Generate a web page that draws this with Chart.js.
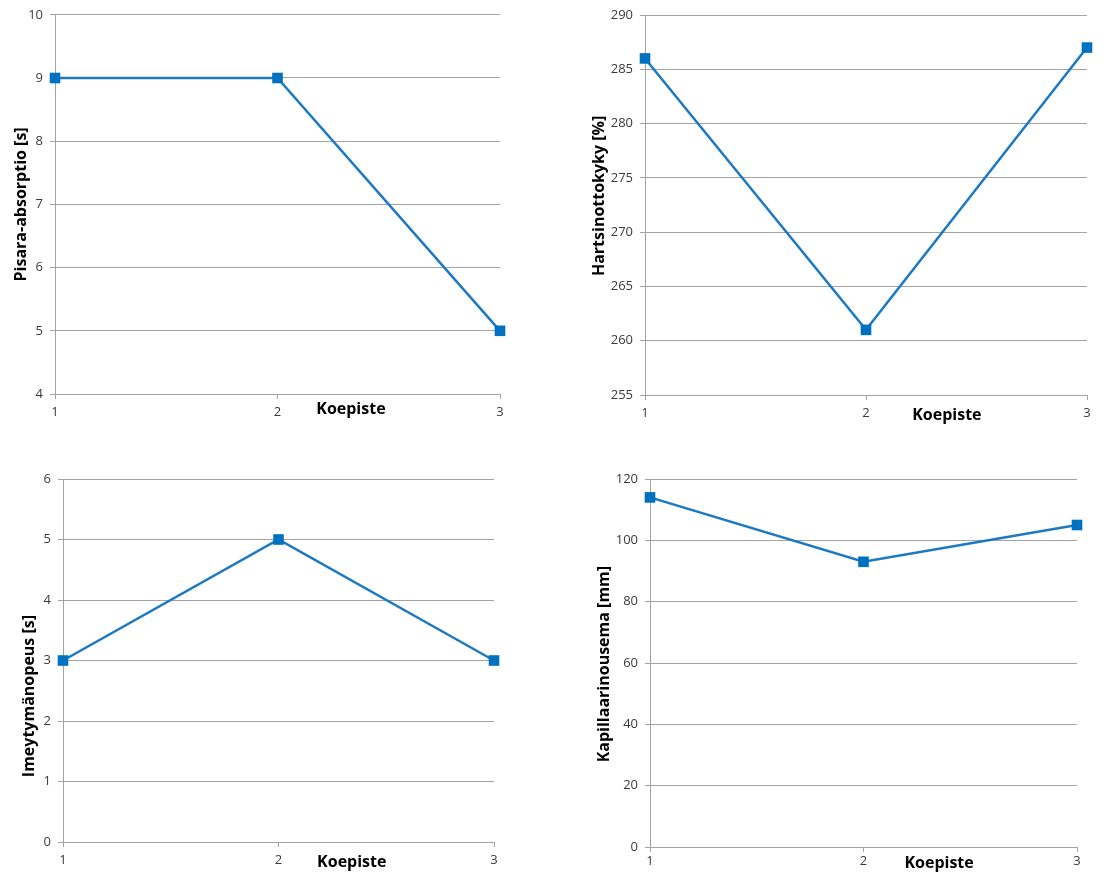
<!DOCTYPE html>
<html>
<head>
<meta charset="utf-8">
<script src="https://cdn.jsdelivr.net/npm/chart.js@4/dist/chart.umd.min.js"></script>
<style>
  html, body { margin: 0; padding: 0; background: #fff; }
  body { width: 1103px; height: 876px; position: relative; overflow: hidden; }
  .box { position: absolute; }
</style>
</head>
<body>
<div class="box" style="left:0;top:0;width:512px;height:440px"><canvas id="pisara"></canvas></div>
<div class="box" style="left:575px;top:0;width:528px;height:440px"><canvas id="hartsi"></canvas></div>
<div class="box" style="left:0;top:460px;width:512px;height:416px"><canvas id="imeytyma"></canvas></div>
<div class="box" style="left:575px;top:460px;width:528px;height:416px"><canvas id="kapillaari"></canvas></div>
<script>
// test points
const koepisteet = ['1', '2', '3'];

// measured values per test point
const pisaraAbsorptio = [9, 9, 5];
const hartsinottokyky = [286, 261, 287];
const imeytymanopeus = [3, 5, 3];
const kapillaarinousema = [114, 93, 105];

// y axis ranges [min, max, step]
const pisaraRange = [4, 10, 1];
const hartsiRange = [255, 290, 5];
const imeytymaRange = [0, 6, 1];
const kapillaariRange = [0, 120, 20];

const LINE = '#1b79c4';
const MARKER = '#0070c0';
const GRID = '#a3a3a3';
const TEXT = '#3a3a3a';
const FONT = "'Open Sans', 'DejaVu Sans', sans-serif";

// axis titles drawn Excel-style: x title beside the tick row, y title rotated
const axisTitles = {
  id: 'axisTitles',
  afterDraw(chart, args, opts) {
    const { ctx, chartArea } = chart;
    ctx.save();
    ctx.fillStyle = '#000';
    ctx.font = 'bold 16px ' + FONT;
    ctx.textAlign = 'center';
    ctx.textBaseline = 'middle';
    const xx = chartArea.left + opts.xAt * (chartArea.right - chartArea.left);
    ctx.fillText(opts.x, xx, chartArea.bottom + opts.xOff);
    const yy = chartArea.top + opts.yAt * (chartArea.bottom - chartArea.top);
    ctx.translate(chartArea.left + opts.yOff, yy);
    ctx.rotate(-Math.PI / 2);
    ctx.fillText(opts.y, 0, 0);
    ctx.restore();
  }
};

function lineChart(id, values, range, cfg) {
  new Chart(document.getElementById(id), {
    type: 'line',
    data: {
      labels: koepisteet,
      datasets: [{
        data: values,
        borderColor: LINE,
        borderWidth: 2.5,
        pointStyle: 'rect',
        pointRadius: 7.5,
        pointHoverRadius: 7.5,
        pointBackgroundColor: MARKER,
        pointBorderColor: MARKER,
        pointBorderWidth: 0,
        tension: 0,
        clip: false
      }]
    },
    options: {
      responsive: true,
      maintainAspectRatio: false,
      animation: false,
      events: [],
      layout: { autoPadding: false, padding: { top: cfg.top, right: cfg.right, left: 0, bottom: 0 } },
      plugins: {
        legend: { display: false },
        tooltip: { enabled: false },
        axisTitles: cfg.titles
      },
      scales: {
        x: {
          type: 'category',
          offset: false,
          grid: { drawOnChartArea: false, drawTicks: true, tickLength: 5, color: GRID },
          border: { color: GRID, width: 1 },
          ticks: { color: TEXT, font: { family: FONT, size: 13 }, padding: cfg.xPad, maxRotation: 0 },
          afterFit: s => { s.height = cfg.xHeight; }
        },
        y: {
          min: range[0],
          max: range[1],
          grid: { color: GRID, lineWidth: 1, tickLength: 5 },
          border: { color: GRID, width: 1 },
          ticks: { stepSize: range[2], color: TEXT, font: { family: FONT, size: 13 }, padding: 7 },
          afterFit: s => { s.width = cfg.yWidth; }
        }
      }
    },
    plugins: [axisTitles]
  });
}

lineChart('pisara', pisaraAbsorptio, pisaraRange, {
  top: 14, right: 12, yWidth: 55, xHeight: 46, xPad: 5,
  titles: { x: 'Koepiste', xAt: 0.665, xOff: 15, y: 'Pisara-absorptio [s]', yAt: 0.5, yOff: -34 }
});

lineChart('hartsi', hartsinottokyky, hartsiRange, {
  top: 15, right: 16, yWidth: 70, xHeight: 45, xPad: 5,
  titles: { x: 'Koepiste', xAt: 0.683, xOff: 20, y: 'Hartsinottokyky [%]', yAt: 0.476, yOff: -46 }
});

lineChart('imeytyma', imeytymanopeus, imeytymaRange, {
  top: 19, right: 18, yWidth: 63, xHeight: 34, xPad: 5,
  titles: { x: 'Koepiste', xAt: 0.67, xOff: 20, y: 'Imeytymänopeus [s]', yAt: 0.598, yOff: -34 }
});

lineChart('kapillaari', kapillaarinousema, kapillaariRange, {
  top: 19, right: 26, yWidth: 75, xHeight: 29, xPad: 1,
  titles: { x: 'Koepiste', xAt: 0.677, xOff: 16, y: 'Kapillaarinousema [mm]', yAt: 0.503, yOff: -46 }
});
</script>
</body>
</html>
